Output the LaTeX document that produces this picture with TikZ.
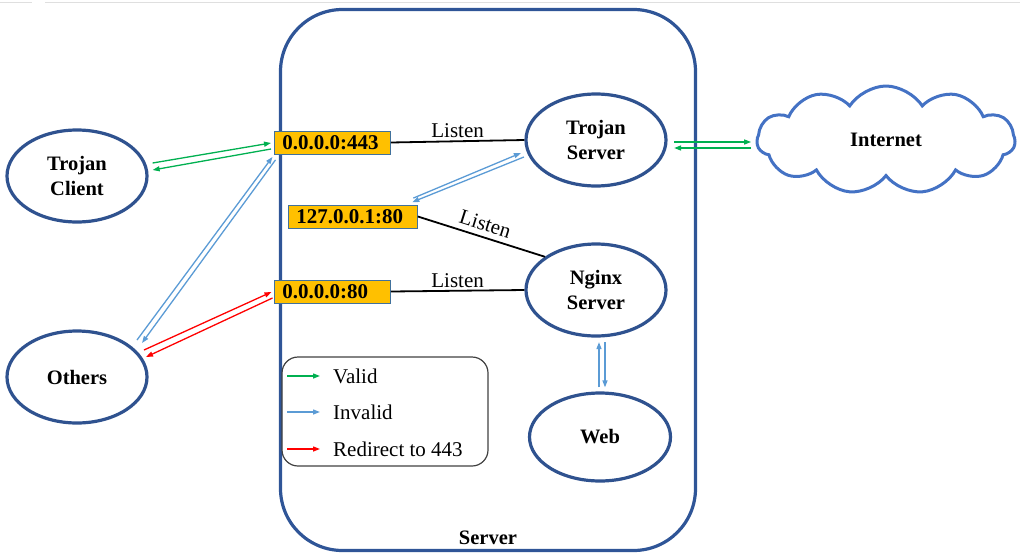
\documentclass[tikz,border=0pt]{standalone}
\usepackage{fontspec}
\setmainfont{Liberation Serif}
\usetikzlibrary{shapes.geometric,shapes.symbols,arrows.meta}

\definecolor{ellblue}{HTML}{2F528F}
\definecolor{srvblue}{HTML}{2F5597}
\definecolor{portfill}{HTML}{FFC000}
\definecolor{portedge}{HTML}{41719C}
\definecolor{cloudblue}{HTML}{4472C4}
\definecolor{validc}{HTML}{00B050}
\definecolor{invalidc}{HTML}{5B9BD5}
\definecolor{redirc}{HTML}{FF0000}

\begin{document}
\begin{tikzpicture}[x=1pt,y=-1pt,
  host/.style={ellipse, draw=ellblue, line width=3.2pt, minimum width=140pt, minimum height=92pt,
    inner sep=0pt, align=center, font=\bfseries\fontsize{20.5}{25}\selectfont},
  portbox/.style={draw=portedge, fill=portfill, line width=0.8pt, anchor=west, minimum height=23pt,
    inner xsep=8pt, inner ysep=0pt, align=left, font=\bfseries\fontsize{21}{24}\selectfont},
  listen/.style={line width=1.8pt, black},
  lbl/.style={font=\fontsize{21}{24}\selectfont},
  tip/.style={-{Triangle[length=7pt,width=5pt]}},
  valid/.style={tip, draw=validc, line width=1.3pt},
  invalid/.style={tip, draw=invalidc, line width=1.3pt},
  redir/.style={tip, draw=redirc, line width=1.3pt}]
\useasboundingbox (0,0) rectangle (1020,555);
% thin line at the top
\draw[gray!25, line width=1pt] (0,2) -- (32,2) (45,2) -- (1020,2);

% the server box
\node[draw=srvblue, line width=3.2pt, rounded corners=62pt, minimum width=415pt, minimum height=541pt] (srv) at (488,280) {};
\node[font=\bfseries\fontsize{20.5}{22}\selectfont] (srvlabel) at (488,538) {Server};

% hosts
\node[host] (tc) at (77,176) {Trojan\\Client};
\node[host] (oth) at (77,377) {Others};
\node[host] (ts) at (596,140) {Trojan\\Server};
\node[host] (ng) at (596,290) {Nginx\\Server};
\node[host, minimum width=141pt, minimum height=88pt] (web) at (600,437) {Web};
\node[cloud, cloud puffs=11, cloud puff arc=115, cloud ignores aspect, draw=cloudblue, line width=3pt,
  minimum width=258pt, minimum height=108pt, font=\bfseries\fontsize{20.5}{22}\selectfont] (inet) at (886,140) {Internet};

% ports
\node[portbox, text width=100pt] (p443) at (274,142.5) {0.0.0.0:443};
\node[portbox, text width=113pt] (p127) at (288,216.5) {127.0.0.1:80};
\node[portbox, text width=100pt] (p80) at (274,291.5) {0.0.0.0:80};

% listen lines
\draw[listen] (p443.east) -- (ts.west) node[lbl, midway, above=-1pt] {Listen};
\draw[listen] (p127.east) -- (ng.147) node[lbl, midway, above=2pt, sloped] {Listen};
\draw[listen] (p80.east) -- (ng.west) node[lbl, midway, above=-1pt] {Listen};

% trojan client <-> 443
\draw[valid] ([xshift=4pt,yshift=13pt]tc.east) -- ([xshift=-3pt,yshift=-0.5pt]p443.west);
\draw[valid] ([xshift=-3pt,yshift=-6.5pt]p443.west) -- ([xshift=4pt,yshift=6pt]tc.east);
% others <-> 443
\draw[invalid] ([xshift=60pt,yshift=37pt]oth.center) -- ([xshift=-1.5pt,yshift=-2.5pt]p443.south west);
\draw[invalid] ([xshift=1.5pt,yshift=-5.5pt]p443.south west) -- ([xshift=65pt,yshift=34pt]oth.center);
% others <-> 80
\draw[redir] ([xshift=67pt,yshift=27pt]oth.center) -- ([xshift=-2.5pt,yshift=-0.5pt]p80.west);
\draw[redir] ([xshift=-1.5pt,yshift=-6.5pt]p80.west) -- ([xshift=69pt,yshift=20pt]oth.center);
% 127 <-> trojan server
\draw[invalid] ([xshift=-4.5pt,yshift=6.5pt]p127.north east) -- ([xshift=-3.5pt,yshift=-13pt]ts.west);
\draw[invalid] ([xshift=-0.5pt,yshift=-17pt]ts.west) -- ([xshift=-5.5pt,yshift=2.5pt]p127.north east);
% trojan server <-> internet
\draw[valid] ([xshift=6.5pt,yshift=-2pt]ts.east) -- ([xshift=83.5pt,yshift=-2pt]ts.east);
\draw[valid] ([xshift=83.5pt,yshift=-8pt]ts.east) -- ([xshift=6.5pt,yshift=-8pt]ts.east);
% nginx <-> web
\draw[invalid] ([xshift=-1pt,yshift=4pt]web.north) -- ([xshift=3pt,yshift=-4.5pt]ng.south);
\draw[invalid] ([xshift=9pt,yshift=-4.5pt]ng.south) -- ([xshift=5pt,yshift=4pt]web.north);

% legend
\node[draw=black!75, line width=1.2pt, rounded corners=16pt, minimum width=206pt, minimum height=109pt] (lg) at (385,411.5) {};
\node[lbl, anchor=west, inner sep=0pt] (lv) at (333,376) {Valid};
\node[lbl, anchor=west, inner sep=0pt] (li) at (333,412) {Invalid};
\node[lbl, anchor=west, inner sep=0pt] (lr) at (333,449) {Redirect to 443};
\draw[valid] ([xshift=-46pt]lv.west) -- ([xshift=-13pt]lv.west);
\draw[invalid] ([xshift=-46pt]li.west) -- ([xshift=-13pt]li.west);
\draw[redir] ([xshift=-46pt]lr.west) -- ([xshift=-13pt]lr.west);
\end{tikzpicture}
\end{document}
